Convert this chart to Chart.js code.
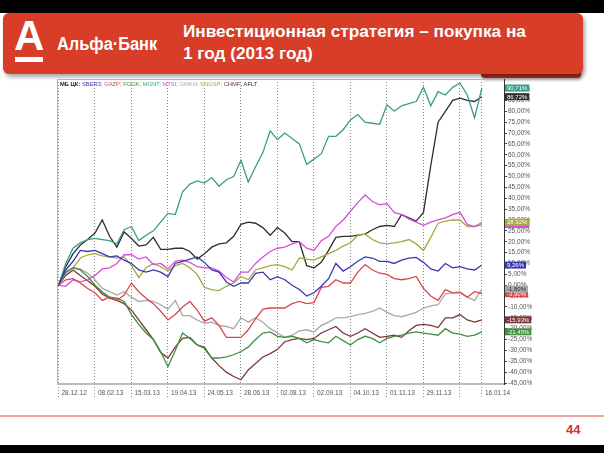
<!DOCTYPE html>
<html lang="ru">
<head>
  <meta charset="UTF-8" />
  <title>Инвестиционная стратегия – покупка на 1 год (2013 год)</title>
  <script src="https://cdn.jsdelivr.net/npm/chart.js"></script>
  <style>
    html, body { margin: 0; padding: 0; }
    body { width: 604px; height: 453px; position: relative; overflow: hidden; background: #fff; font-family: "Liberation Sans", Arial, sans-serif; }
    .band-top { position: absolute; left: 0; top: 0; width: 604px; height: 13px; background: #000; }
    .band-bottom { position: absolute; left: 0; top: 445px; width: 604px; height: 8px; background: #000; }
    .tab { position: absolute; left: 481px; top: 62px; width: 100px; height: 16px; background: #b42a1b; border-radius: 0 0 4px 4px; box-shadow: 1px 2px 3px rgba(0,0,0,.35); }
    .banner { position: absolute; left: 3px; top: 13px; width: 580px; height: 61px; background: #d83d27; border-radius: 6px; box-shadow: 2px 3px 4px rgba(0,0,0,.35); }
    .logo-a { position: absolute; left: 14px; top: 12px; color: #fff; font: bold 42px "Liberation Sans", Arial, sans-serif; }
    .logo-bar { position: absolute; left: 15px; top: 57px; width: 28px; height: 5px; background: #fff; }
    .logo-name { position: absolute; left: 57px; top: 34px; color: #fff; font: bold 18px "Liberation Sans", Arial, sans-serif; white-space: nowrap; transform: scaleX(0.91); transform-origin: left center; }
    .title { position: absolute; left: 183px; top: 20px; color: #fff; font: bold 17.2px "Liberation Sans", Arial, sans-serif; line-height: 22px; white-space: nowrap; }
    .chart-box { position: absolute; left: 50px; top: 72px; width: 510px; height: 340px; }
    .rule { position: absolute; left: 0; top: 415px; width: 604px; height: 2px; background: #f2a8a0; }
    .page { position: absolute; left: 566px; top: 422px; color: #d8352a; font: bold 13px "Liberation Sans", Arial, sans-serif; }
  </style>
</head>
<body>
  <div class="band-top"></div>
  <div class="tab"></div>
  <div class="banner"></div>
  <div class="logo-a">А</div>
  <div class="logo-bar"></div>
  <div class="logo-name">Альфа·Банк</div>
  <div class="title">Инвестиционная стратегия – покупка на<br>1 год (2013 год)</div>
  <div class="chart-box"><canvas id="chart" width="510" height="340"></canvas></div>
  <div class="rule"></div>
  <div class="page">44</div>
  <div class="band-bottom"></div>

  <script>
    // x axis: weekly points, labels every 5 points + the last one
    const tickIdx = [0, 5, 10, 15, 20, 25, 30, 35, 40, 45, 50, 55, 58];
    const tickLabels = ['28.12.12', '08.02.13', '15.03.13', '19.04.13', '24.05.13', '28.06.13',
      '02.08.13', '02.09.13', '04.10.13', '01.11.13', '29.11.13', '', '16.01.14'];
    const yTicks = [];
    for (let v = -45; v <= 90; v += 5) yTicks.push(v);

    const names = ['SBER3', 'GAZP', 'FGGK', 'MGNT', 'MTSI', 'GMKN', 'SNGSP', 'CHMF', 'AFLT'];

    // % change
    const sber3 = [0, 7, 11, 16, 15.5, 16, 14.5, 13, 13.5, 11.5, 10, 7, 6, 7, 6, 4, 10, 11, 12, 13,
      10.5, 7, 6, 1.5, -0.5, 1, 1, 5.5, 6, 2.5, 3.9, 2.5, 0, -2, -5, -3.5, -0.5, 3, 10, 6.5,
      8.5, 11, 13, 12.5, 11, 11, 10, 11.5, 12.5, 12.8, 10.5, 7.5, 6.5, 10, 8, 8.5, 7.5, 7, 9.26];
    const gazp = [0, 2.5, 3, 1, -1.5, -3.5, -7, -5.5, -7, -4.5, 1, -3, -6, -8.5, -12, -16, -13.5, -10, -7.5, -11.5,
      -16.5, -15, -18.5, -24, -24, -24, -20.5, -15.5, -11, -10.5, -10.5, -10.5, -8.5, -7.5, -8.5, -8, -1, -0.5, 2.5, 1,
      1, 6, 9.5, 7, 5.5, 5, 3, 2.5, 3, 4, -1.5, -5, -7, -2, -3.5, -3.5, -5.5, -3, -3.9];
    const fggk = [0, 6, 8, 7, 4, 0, -3, -5.5, -6, -7.5, -13.5, -18, -22, -25, -30.5, -37.5, -30, -22, -24.5, -27.5,
      -28.5, -33.5, -33.5, -33, -32, -30.5, -28.5, -25, -22, -21.5, -23.5, -24, -23.5, -24.5, -26.5, -25, -26, -26.5, -23.5, -25.5,
      -27.5, -25, -23.5, -24.5, -26.5, -24.5, -23.5, -23, -22, -21.5, -22, -22.5, -23, -20, -22, -22.5, -23.5, -23, -21.45];
    const mgnt = [0, 10, 17, 19.5, 21, 21.5, 21, 20.5, 19, 25.5, 27, 20.5, 23, 25, 29, 33, 32.5, 43, 46.5, 48,
      47, 49.5, 45.5, 48.5, 50, 57.5, 47.5, 54.5, 61, 71, 67, 70, 67.5, 65, 55.5, 58, 60.5, 68.5, 68.5, 71.5,
      76, 78.5, 75, 74.5, 74, 83, 80, 82.5, 83.5, 84.5, 91, 82.5, 89, 87.5, 91, 93, 87.5, 77, 90.71];
    const mtsi = [0, -0.5, 2.5, 1.5, 2.5, 4.5, 7.5, 8, 10, 14, 14, 12, 13, 9.5, 10, 7.5, 11, 11.5, 10.5, 8.5,
      8, 8, 6.5, 3.5, 1.5, 6, 6, 10, 13, 15.5, 17, 17.5, 19, 20, 17, 16, 20.5, 22.5, 27, 30,
      34, 38, 41.5, 38.5, 37, 37.5, 33.5, 32.5, 30.5, 29, 27.5, 29, 30, 31, 32.5, 33.5, 28, 27, 27.9];
    const gmkn = [0, 5.5, 8, 7.5, 5.5, 2.5, -1.5, -3, -4.5, -3, -5.5, -7.5, -7, -7.5, -9, -11, -7, -14, -14, -16,
      -17.5, -17, -18.5, -19, -20, -15, -17, -15, -17, -20, -22, -24, -23, -21, -20.5, -21.5, -18.5, -17, -15, -15,
      -14.5, -13.5, -13, -12, -10.5, -12.5, -14, -14.5, -13.5, -12.5, -10.5, -9.5, -9, -4, -3.5, -3, -5.5, -7, -1.8];
    const sngsp = [0, 6, 8, 12.5, 14, 14.5, 13.5, 13, 12.5, 13, 9, 3.5, 8, 10, 8.5, 6.5, 9, 10, 8, 5,
      -1, -2, -2.5, -0.5, 1, 4, 2.5, 7, 8, 9, 9.5, 8.5, 7, 12.5, 12, 11.5, 13, 14.5, 16, 18,
      19.5, 23, 23.5, 21, 19.5, 19, 19.5, 20, 21, 19, 16, 22, 28.5, 29.5, 30, 30, 27, 27, 28.92];
    const chmf = [0, 4.5, 7, 4.5, 2, -0.5, -4, -6, -7, -8.5, -11.5, -16, -20.5, -25, -31, -33.5, -28.5, -24.5, -24, -27.5,
      -29, -33.5, -37, -40, -42, -43.5, -39, -36, -33, -31.5, -29.5, -26, -25, -24.5, -25, -24.5, -22, -20.5, -19, -22,
      -23.5, -22, -20, -22, -24, -23.5, -23, -24, -21, -18.5, -18, -18.5, -19.5, -15, -15, -13.5, -16, -17, -15.93];
    const aflt = [0, 8.5, 14.5, 18.5, 21, 24, 30, 22.5, 17.5, 24.5, 21.5, 18, 18.5, 22, 16.5, 16.5, 17, 17, 15.5, 12,
      14.5, 17.5, 19, 19.5, 22.5, 28, 29, 28.5, 26.5, 23, 26.5, 24, 20, 20, 9, 8, 10.5, 16, 22, 22.5,
      22.5, 23, 23.5, 25.5, 27, 27.5, 27, 32.5, 31, 29.5, 33.5, 55, 75, 80, 85, 86, 85, 84.5, 86.72];

    const values = [sber3, gazp, fggk, mgnt, mtsi, gmkn, sngsp, chmf, aflt];

    // styles
    const colors = ['#3838b0', '#d9464c', '#3f9040', '#379c8a', '#d64fd6', '#a9a9a9', '#a8a63e', '#7d3535', '#2e2e2e'];
    const boxText = ['#fff', '#fff', '#fff', '#fff', '#fff', '#333', '#fff', '#fff', '#fff'];
    const smallFont = '6.5px "Liberation Sans", Arial, sans-serif';

    const pct = v => v.toFixed(2).replace('.', ',') + '%';

    // frame, legend line and last-value boxes
    const decor = {
      id: 'decor',
      afterDraw(chart) {
        const { ctx, chartArea: a, scales } = chart;
        ctx.save();
        ctx.strokeStyle = '#b8b8b8';
        ctx.lineWidth = 1;
        ctx.beginPath();
        ctx.moveTo(a.left + 0.5, a.bottom);
        ctx.lineTo(a.left + 0.5, a.top + 0.5);
        ctx.lineTo(a.right, a.top + 0.5);
        ctx.stroke();
        ctx.strokeStyle = '#bdbdbd';
        ctx.lineWidth = 2;
        ctx.beginPath();
        ctx.moveTo(a.left, a.bottom);
        ctx.lineTo(a.right, a.bottom);
        ctx.stroke();

        // legend text
        let x = a.left + 3;
        const y = a.top + 5;
        ctx.textBaseline = 'middle';
        ctx.textAlign = 'left';
        ctx.font = 'bold 5.8px "Liberation Sans", Arial, sans-serif';
        ctx.fillStyle = '#222';
        ctx.fillText('МБ ЦК:', x, y);
        x += ctx.measureText('МБ ЦК: ').width;
        ctx.font = '5.8px "Liberation Sans", Arial, sans-serif';
        names.forEach((n, i) => {
          const t = n + (i < names.length - 1 ? '; ' : '');
          ctx.fillStyle = colors[i];
          ctx.fillText(t, x, y);
          x += ctx.measureText(t).width;
        });

        // value boxes on the right axis
        ctx.font = '6px "Liberation Sans", Arial, sans-serif';
        values.forEach((arr, i) => {
          const last = arr[arr.length - 1];
          const py = scales.y.getPixelForValue(last);
          const t = pct(last);
          const w = ctx.measureText(t).width + 4;
          ctx.fillStyle = colors[i];
          ctx.fillRect(a.right + 1, py - 3.5, w, 7);
          ctx.fillStyle = boxText[i];
          ctx.fillText(t, a.right + 3, py + 0.3);
        });
        ctx.restore();
      }
    };

    new Chart(document.getElementById('chart').getContext('2d'), {
      type: 'line',
      data: {
        datasets: values.map((arr, i) => ({
          label: names[i],
          data: arr.map((v, k) => ({ x: k, y: v })),
          borderColor: colors[i],
          borderWidth: 1.3,
          pointRadius: 0,
          tension: 0,
          fill: false
        }))
      },
      options: {
        responsive: false,
        animation: false,
        layout: { padding: { left: 7, top: 7, right: 0, bottom: 0 } },
        plugins: { legend: { display: false }, tooltip: { enabled: false } },
        scales: {
          x: {
            type: 'linear',
            min: -0.2,
            max: 61.03,
            afterBuildTicks: s => { s.ticks = tickIdx.map(v => ({ value: v })); },
            afterFit: s => { s.height = 28; },
            grid: { color: '#8c8c8c', lineWidth: 1, tickLength: 14, tickColor: '#8c8c8c', tickBorderDash: [1, 2] },
            border: { display: false, dash: [1, 2] },
            ticks: {
              callback: (v, i) => tickLabels[i],
              align: 'start',
              autoSkip: false,
              maxRotation: 0,
              padding: -9,
              labelOffset: 3,
              color: '#555',
              font: { family: '"Liberation Sans", Arial, sans-serif', size: 6.5 }
            }
          },
          y: {
            position: 'right',
            min: -45.45,
            max: 94.85,
            afterBuildTicks: s => { s.ticks = yTicks.map(v => ({ value: v })); },
            afterFit: s => { s.width = 56; },
            grid: { drawOnChartArea: false, tickLength: 3, tickColor: '#444' },
            border: { color: '#333', width: 1 },
            ticks: {
              callback: v => pct(v),
              padding: 1,
              color: '#555',
              font: { family: '"Liberation Sans", Arial, sans-serif', size: 6.5 }
            }
          }
        }
      },
      plugins: [decor]
    });
  </script>
</body>
</html>
